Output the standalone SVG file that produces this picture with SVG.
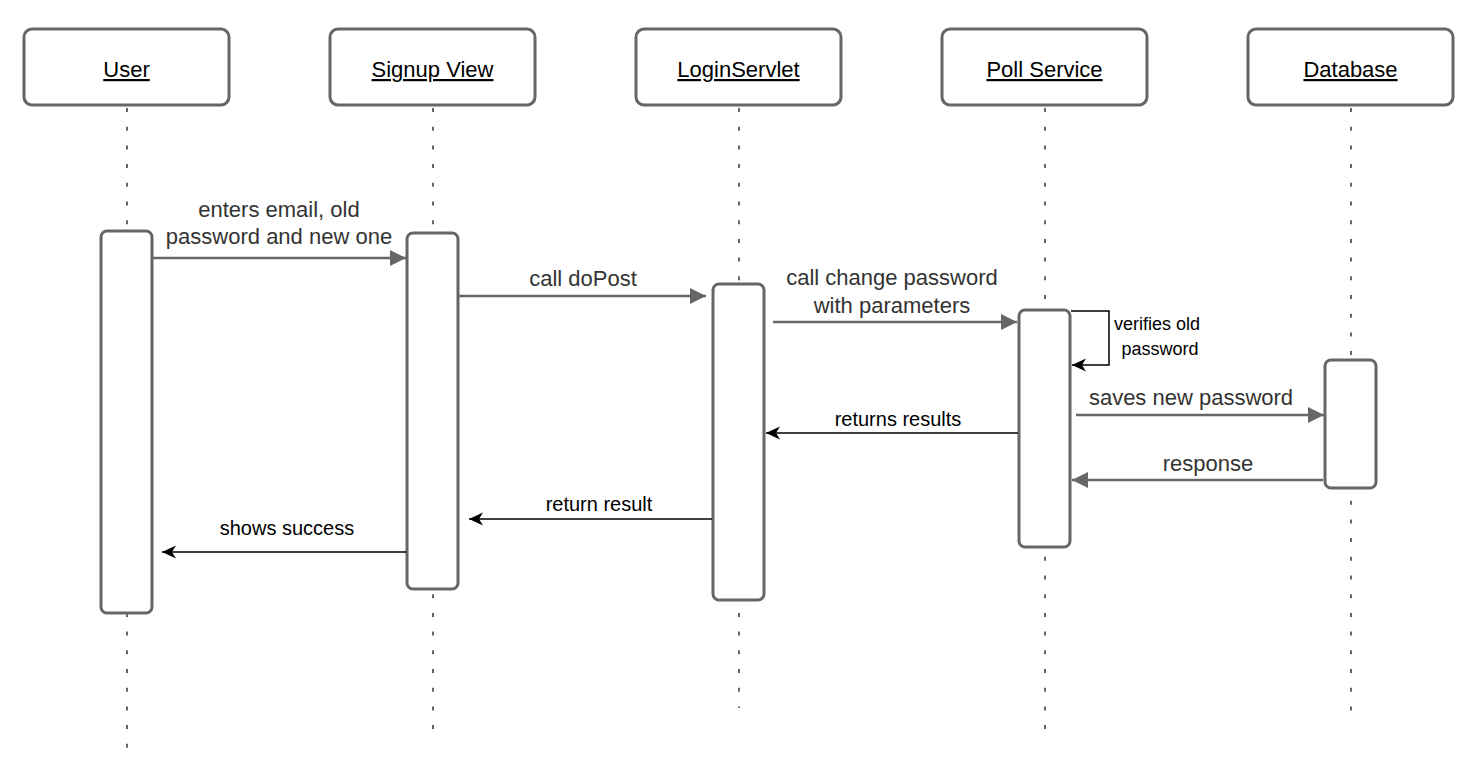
<svg xmlns="http://www.w3.org/2000/svg" width="1484" height="772" viewBox="0 0 1484 772">
<style>
.hdr{fill:#fff;stroke:#666;stroke-width:3}
.act{fill:#fff;stroke:#666;stroke-width:3}
.life{stroke:#666;stroke-width:2;stroke-dasharray:4 14.7;fill:none}
.ht{font-family:"Liberation Sans",Arial,sans-serif;font-size:22px;fill:#000;text-anchor:middle;text-decoration:underline}
.gl{font-family:"Liberation Sans",Arial,sans-serif;font-size:22px;fill:#333;text-anchor:middle}
.bl{font-family:"Liberation Sans",Arial,sans-serif;font-size:20px;fill:#000;text-anchor:middle}
.sl{font-family:"Liberation Sans",Arial,sans-serif;font-size:18px;fill:#000;text-anchor:middle}
.gm{stroke:#666;stroke-width:2.5;fill:none}
.bm{stroke:#000;stroke-width:1.5;fill:none}
</style>
<defs>
<marker id="ga" markerUnits="userSpaceOnUse" markerWidth="18" markerHeight="18" refX="16" refY="8" orient="auto">
<path d="M0,0 L16,8 L0,16 z" fill="#666"/>
</marker>
<marker id="ba" markerUnits="userSpaceOnUse" markerWidth="16" markerHeight="16" refX="14" refY="6.5" orient="auto">
<path d="M0,0 L14,6.5 L0,13 L4,6.5 z" fill="#000"/>
</marker>
</defs>
<rect width="1484" height="772" fill="#fff"/>
<g id="lifelines">
<line class="life" x1="127" y1="108" x2="127" y2="750"/>
<line class="life" x1="433" y1="108" x2="433" y2="729"/>
<line class="life" x1="739" y1="108" x2="739" y2="708"/>
<line class="life" x1="1045" y1="108" x2="1045" y2="738"/>
<line class="life" x1="1351" y1="108" x2="1351" y2="723"/>
</g>
<g id="user">
<rect class="hdr" x="24" y="29" width="205" height="76" rx="8"/>
<text class="ht" x="126.5" y="77">User</text>
<rect class="act" x="101" y="231" width="51" height="382" rx="6"/>
</g>
<g id="signup">
<rect class="hdr" x="330" y="29" width="205" height="76" rx="8"/>
<text class="ht" x="432.5" y="77">Signup View</text>
<rect class="act" x="407" y="233" width="51" height="356" rx="6"/>
</g>
<g id="loginservlet">
<rect class="hdr" x="636" y="29" width="205" height="76" rx="8"/>
<text class="ht" x="738.5" y="77">LoginServlet</text>
<rect class="act" x="713" y="284" width="51" height="316" rx="6"/>
</g>
<g id="pollservice">
<rect class="hdr" x="942" y="29" width="205" height="76" rx="8"/>
<text class="ht" x="1044.5" y="77">Poll Service</text>
<rect class="act" x="1019" y="310" width="51" height="237" rx="6"/>
</g>
<g id="database">
<rect class="hdr" x="1248" y="29" width="205" height="76" rx="8"/>
<text class="ht" x="1350.5" y="77">Database</text>
<rect class="act" x="1325" y="360" width="51" height="128" rx="6"/>
</g>
<g id="connectors">
<line class="gm" x1="153" y1="258" x2="406" y2="258" marker-end="url(#ga)"/>
<text class="gl" x="279" y="217">enters email, old</text>
<text class="gl" x="279" y="244">password and new one</text>
<line class="gm" x1="459" y1="296" x2="706" y2="296" marker-end="url(#ga)"/>
<text class="gl" x="583" y="286">call doPost</text>
<line class="gm" x1="773" y1="322" x2="1017" y2="322" marker-end="url(#ga)"/>
<text class="gl" x="892" y="285">call change password</text>
<text class="gl" x="892" y="313">with parameters</text>
<path class="bm" d="M1071,311 H1109 V365 H1072" marker-end="url(#ba)"/>
<text class="sl" x="1157" y="330">verifies old</text>
<text class="sl" x="1160" y="355">password</text>
<line class="gm" x1="1076" y1="415" x2="1324" y2="415" marker-end="url(#ga)"/>
<text class="gl" x="1191" y="405">saves new password</text>
<line class="gm" x1="1323" y1="480" x2="1072" y2="480" marker-end="url(#ga)"/>
<text class="gl" x="1208" y="471">response</text>
<line class="bm" x1="1018" y1="433" x2="766" y2="433" marker-end="url(#ba)"/>
<text class="bl" x="898" y="426">returns results</text>
<line class="bm" x1="712" y1="519" x2="469" y2="519" marker-end="url(#ba)"/>
<text class="bl" x="599" y="511">return result</text>
<line class="bm" x1="406" y1="552" x2="162" y2="552" marker-end="url(#ba)"/>
<text class="bl" x="287" y="535">shows success</text>
</g>
</svg>
